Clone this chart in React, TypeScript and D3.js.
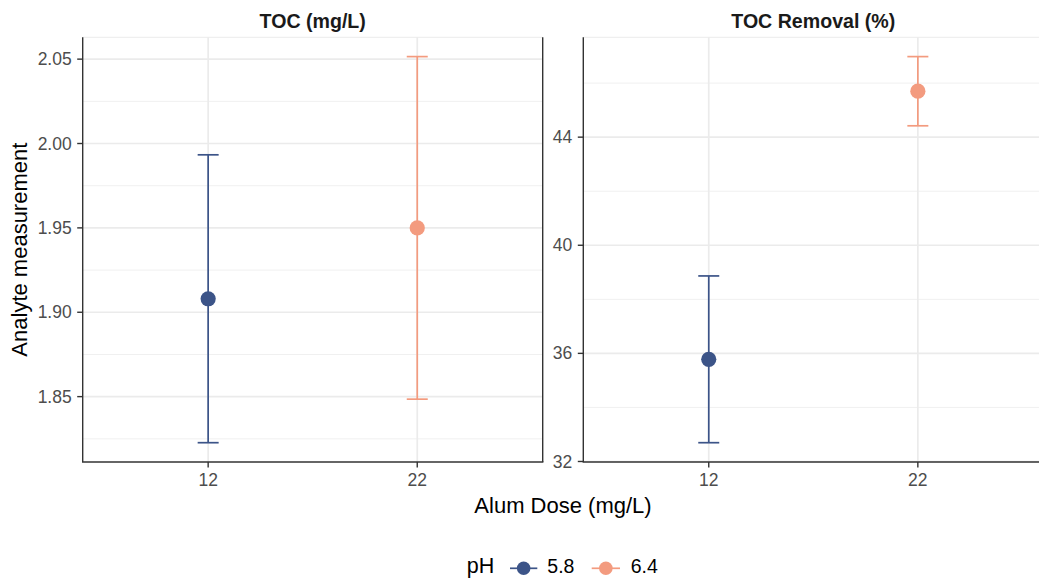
import React from "react";
import * as d3 from "d3";

const doses = ["12", "22"];
const phLevels = ["5.8", "6.4"];
const phColors = ["#3C5488", "#F39B7F"];
const panelTitles = ["TOC (mg/L)", "TOC Removal (%)"];
const tocMean = [1.908, 1.95];
const tocSd = [0.0853, 0.1015];
const removalMean = [35.78, 45.7];
const removalSd = [3.085, 1.28];
const tocTicks = [1.85, 1.9, 1.95, 2.0, 2.05];
const tocMinor = [1.825, 1.875, 1.925, 1.975, 2.025];
const removalTicks = [32, 36, 40, 44];
const removalMinor = [34, 38, 42, 46];

const W = 1039;
const H = 579;
const FONT = "'Liberation Sans', Arial, Helvetica, sans-serif";
const top = 37.3;
const bottom = 462;
const panelW = 460;
const panelX = [82.7, 583.3];

type Panel = {
  title: string;
  means: number[];
  sds: number[];
  ticks: number[];
  minor: number[];
  fmt: (v: number) => string;
};

const panels: Panel[] = [
  { title: panelTitles[0], means: tocMean, sds: tocSd, ticks: tocTicks, minor: tocMinor, fmt: d3.format(".2f") },
  { title: panelTitles[1], means: removalMean, sds: removalSd, ticks: removalTicks, minor: removalMinor, fmt: d3.format("d") },
];

function PanelView({ p, x0 }: { p: Panel; x0: number }) {
  const lows = p.means.map((m, i) => m - p.sds[i]);
  const highs = p.means.map((m, i) => m + p.sds[i]);
  const mn = d3.min(lows)!;
  const mx = d3.max(highs)!;
  const r = mx - mn;
  const y = d3.scaleLinear().domain([mn - 0.05 * r, mx + 0.05 * r]).range([bottom, top]);
  const x = d3.scalePoint<string>().domain(doses).range([x0, x0 + panelW]).padding(0.6);
  const capHalf = 10.5;
  return (
    <g>
      <rect x={x0} y={top} width={panelW} height={bottom - top} fill="#fff" />
      {p.minor.map((v) => (
        <line key={"mi" + v} x1={x0} x2={x0 + panelW} y1={y(v)} y2={y(v)} stroke="#F0F0F0" strokeWidth={1} />
      ))}
      {p.ticks.map((v) => (
        <line key={"ma" + v} x1={x0} x2={x0 + panelW} y1={y(v)} y2={y(v)} stroke="#EBEBEB" strokeWidth={1.7} />
      ))}
      {doses.map((d) => (
        <line key={"vx" + d} x1={x(d)} x2={x(d)} y1={top} y2={bottom} stroke="#EBEBEB" strokeWidth={1.7} />
      ))}
      <line x1={x0} x2={x0 + panelW} y1={top} y2={top} stroke="#EBEBEB" strokeWidth={1} />
      {/* error bars and points */}
      {doses.map((d, i) => {
        const cx = x(d)!;
        const c = phColors[i];
        return (
          <g key={"pt" + d}>
            <line x1={cx} x2={cx} y1={y(lows[i])} y2={y(highs[i])} stroke={c} strokeWidth={1.7} />
            <line x1={cx - capHalf} x2={cx + capHalf} y1={y(lows[i])} y2={y(lows[i])} stroke={c} strokeWidth={1.7} />
            <line x1={cx - capHalf} x2={cx + capHalf} y1={y(highs[i])} y2={y(highs[i])} stroke={c} strokeWidth={1.7} />
            <circle cx={cx} cy={y(p.means[i])} r={7.6} fill={c} />
          </g>
        );
      })}
      {/* axes */}
      <line x1={x0} x2={x0} y1={top} y2={bottom} stroke="#333333" strokeWidth={1.4} />
      <line x1={x0 + panelW} x2={x0 + panelW} y1={top} y2={bottom} stroke="#333333" strokeWidth={1.4} />
      <line x1={x0 - 0.7} x2={x0 + panelW + 0.7} y1={bottom} y2={bottom} stroke="#333333" strokeWidth={1.4} />
      {p.ticks.map((v) => (
        <g key={"yt" + v}>
          <line x1={x0 - 5.5} x2={x0} y1={y(v)} y2={y(v)} stroke="#333333" strokeWidth={1.4} />
          <text x={x0 - 11} y={y(v)} dy="0.35em" textAnchor="end" fontSize={17.5} fill="#4D4D4D" fontFamily={FONT}>
            {p.fmt(v)}
          </text>
        </g>
      ))}
      {doses.map((d) => (
        <g key={"xt" + d}>
          <line x1={x(d)} x2={x(d)} y1={bottom} y2={bottom + 5.5} stroke="#333333" strokeWidth={1.4} />
          <text x={x(d)} y={486} textAnchor="middle" fontSize={17.5} fill="#4D4D4D" fontFamily={FONT}>
            {d}
          </text>
        </g>
      ))}
      <text x={x0 + panelW / 2} y={27.5} textAnchor="middle" fontSize={19.6} fontWeight="bold" fill="#1A1A1A" fontFamily={FONT}>
        {p.title}
      </text>
    </g>
  );
}

export default function App() {
  const legendKeys = [
    { x1: 510, x2: 537.3, tx: 547.3 },
    { x1: 591.7, x2: 620, tx: 630.7 },
  ];
  const ly = 568.3;
  return (
    <div style={{ position: "absolute", left: 0, top: 0 }}>
      <svg width={W} height={H} viewBox={`0 0 ${W} ${H}`} style={{ display: "block", background: "#fff" }}>
        <rect x={0} y={0} width={W} height={H} fill="#fff" />
        {panels.map((p, i) => (
          <PanelView key={p.title} p={p} x0={panelX[i]} />
        ))}
        <text
          transform={`translate(27,${(top + bottom) / 2}) rotate(-90)`}
          textAnchor="middle"
          fontSize={22}
          fill="#000"
          fontFamily={FONT}
        >
          Analyte measurement
        </text>
        <text x={(panelX[0] + panelX[1] + panelW) / 2} y={512.5} textAnchor="middle" fontSize={22} fill="#000" fontFamily={FONT}>
          Alum Dose (mg/L)
        </text>
        <text x={466.7} y={573} fontSize={21.5} fill="#000" fontFamily={FONT}>
          pH
        </text>
        {phLevels.map((lv, i) => {
          const k = legendKeys[i];
          return (
            <g key={"lg" + lv}>
              <line x1={k.x1} x2={k.x2} y1={ly} y2={ly} stroke={phColors[i]} strokeWidth={1.7} />
              <circle cx={(k.x1 + k.x2) / 2} cy={ly} r={6.8} fill={phColors[i]} />
              <text x={k.tx} y={573} fontSize={19.5} fill="#000" fontFamily={FONT}>
                {lv}
              </text>
            </g>
          );
        })}
      </svg>
    </div>
  );
}
